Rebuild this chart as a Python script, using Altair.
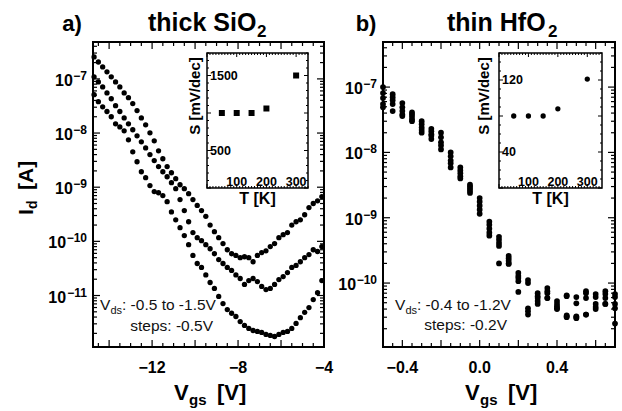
import altair as alt
import pandas as pd

FONT = "Liberation Sans"
MINUS = "\u2212"

# ---------------- data ----------------
# panel a: thick SiO2, three drain biases
VGS_A = [-14.7, -14.5, -14.3, -14.1, -13.9, -13.7, -13.5, -13.3, -13.1, -12.9,
         -12.7, -12.5, -12.3, -12.1, -11.9, -11.7, -11.5, -11.3, -11.1, -10.9,
         -10.7, -10.5, -10.3, -10.1, -9.9, -9.7, -9.5, -9.3, -9.1, -8.9,
         -8.7, -8.5, -8.3, -8.1, -7.9, -7.7, -7.5, -7.3, -7.1, -6.9,
         -6.7, -6.5, -6.3, -6.1, -5.9, -5.7, -5.5, -5.3, -5.1, -4.9,
         -4.7, -4.5, -4.3, -4.1]
ID_A_VDS15 = [2.55e-7, 2.05e-7, 1.66e-7, 1.35e-7, 1.09e-7, 8.8e-8, 7.1e-8, 5.5e-8, 4.5e-8, 3.5e-8,
              2.6e-8, 1.9e-8, 1.42e-8, 1.01e-8, 7.2e-9, 4.7e-9, 3.35e-9, 2.4e-9, 1.85e-9, 1.44e-9,
              1.11e-9, 9.4e-10, 7.6e-10, 5.9e-10, 4.6e-10, 3.7e-10, 2.9e-10, 2.0e-10, 1.51e-10, 1.17e-10,
              9.1e-11, 7.0e-11, 5.9e-11, 5.5e-11, 5.0e-11, 5.2e-11, 5.0e-11, 4.2e-11, 5.5e-11, 6.2e-11,
              6.7e-11, 8.0e-11, 9.1e-11, 1.17e-10, 1.33e-10, 1.45e-10, 2.0e-10, 2.3e-10, 2.5e-10, 3.1e-10,
              4.2e-10, 5.0e-10, 5.6e-10, 6.7e-10]
ID_A_VDS10 = [1.09e-7, 8.8e-8, 7.1e-8, 5.5e-8, 4.3e-8, 3.2e-8, 2.5e-8, 1.9e-8, 1.48e-8, 1.15e-8,
              8.9e-9, 6.9e-9, 5.3e-9, 4.0e-9, 3.1e-9, 2.4e-9, 1.93e-9, 1.56e-9, 1.21e-9, 9.4e-10,
              5.9e-10, 3.7e-10, 2.3e-10, 1.45e-10, 1.17e-10, 1.03e-10, 8.7e-11, 7.3e-11, 5.9e-11, 4.6e-11,
              3.9e-11, 3.3e-11, 2.9e-11, 2.4e-11, 2.06e-11, 1.6e-11, 1.89e-11, 2.06e-11, 1.81e-11, 1.47e-11,
              1.29e-11, 1.35e-11, 1.6e-11, 1.97e-11, 2.24e-11, 2.65e-11, 3.3e-11, 3.6e-11, 4.2e-11, 5.0e-11,
              5.7e-11, 7.0e-11, 6.5e-11, 8.0e-11]
ID_A_VDS05 = [5.1e-8, 3.8e-8, 3.05e-8, 2.5e-8, 2.0e-8, 1.48e-8, 1.3e-8, 1.1e-8, 7.5e-9, 4.5e-9,
              2.95e-9, 1.93e-9, 1.5e-9, 1.07e-9, 8.3e-10, 7.9e-10, 7.0e-10, 5.4e-10, 3.5e-10, 2.5e-10,
              1.79e-10, 1.28e-10, 8.7e-11, 5.5e-11, 3.9e-11, 3.3e-11, 2.4e-11, 1.74e-11, 1.35e-11, 9.6e-12,
              7.1e-12, 5.5e-12, 4.7e-12, 4.1e-12, 3.3e-12, 2.8e-12, 2.47e-12, 2.26e-12, 2.17e-12, 2.08e-12,
              1.91e-12, 1.83e-12, 1.75e-12, 1.91e-12, 2.08e-12, 2.17e-12, 2.47e-12, 3.05e-12, 3.9e-12, 4.9e-12,
              6.0e-12, 8.4e-12, 1.13e-11, 1.89e-11]

# panel b: thin HfO2, five drain biases
VGS_B = [-0.50, -0.45, -0.40, -0.35, -0.30, -0.25, -0.20, -0.15, -0.10, -0.05,
         0.00, 0.05, 0.10, 0.15, 0.20, 0.25, 0.30, 0.35, 0.40, 0.45,
         0.50, 0.55, 0.60, 0.65, 0.70]
ID_B_VDS12 = [1.0e-7, 7.8e-8, 5.7e-8, 4.1e-8, 3.0e-8, 2.3e-8, 2.0e-8, 1.0e-8, 5.9e-9, 3.2e-9,
              2.0e-9, 8.7e-10, 5.1e-10, 2.6e-10, 1.43e-10, 1.11e-10, 7.0e-11, 8.4e-11, 5.3e-11, 6.5e-11,
              6.1e-11, 7.5e-11, 6.8e-11, 7.5e-11, 6.8e-11]
ID_B_VDS10 = [8.1e-8, 7.0e-8, 4.9e-8, 3.8e-8, 2.7e-8, 2.1e-8, 1.7e-8, 8.7e-9, 5.3e-9, 3.0e-9,
              1.76e-9, 7.8e-10, 4.6e-10, 2.4e-10, 1.28e-10, 1.0e-10, 6.3e-11, 7.5e-11, 4.8e-11, 6.3e-11,
              4.9e-11, 7.0e-11, 6.1e-11, 6.8e-11, 6.1e-11]
ID_B_VDS08 = [6.8e-8, 6.3e-8, 4.3e-8, 3.5e-8, 2.4e-8, 1.9e-8, 1.43e-8, 7.5e-9, 4.8e-9, 2.8e-9,
              1.53e-9, 6.8e-10, 4.1e-10, 2.2e-10, 1.19e-10, 4.1e-11, 5.9e-11, 7.0e-11, 4.4e-11, 3.2e-11,
              3.1e-11, 5.9e-11, 4.8e-11, 5.9e-11, 4.8e-11]
ID_B_VDS06 = [5.5e-8, 5.5e-8, 3.8e-8, 3.2e-8, 2.2e-8, 1.8e-8, 1.28e-8, 6.8e-9, 4.3e-9, 2.6e-9,
              1.33e-9, 5.9e-10, 3.7e-10, 2.0e-10, 1.07e-10, 3.7e-11, 5.3e-11, 5.9e-11, 4.1e-11, 3.1e-11,
              3.0e-11, 3.3e-11, 4.3e-11, 4.8e-11, 4.1e-11]
ID_B_VDS04 = [4.9e-8, 4.3e-8, 3.6e-8, 3.0e-8, 2.0e-8, 1.6e-8, 1.11e-8, 5.9e-9, 4.0e-9, 2.4e-9,
              1.15e-9, 5.3e-10, 2.0e-10, 1.96e-10, 7.3e-11, 3.3e-11, 4.8e-11, 5.9e-11, 4.0e-11, 3.0e-11,
              2.9e-11, 3.3e-11, 4.0e-11, 4.8e-11, 2.4e-11]

# insets: subthreshold swing vs temperature
T_K = [50, 100, 150, 200, 300]
S_SIO2 = [1000, 1000, 1000, 1060, 1500]
S_HFO2 = [80, 80, 80, 88, 121]

# axis domains and tick labels
XA_DOMAIN = [-14.75, -4.0]
YA_DOMAIN = [1.12e-12, 4.8e-7]
XB_DOMAIN = [-0.5, 0.7]
YB_DOMAIN = [1.05e-11, 4.9e-7]
TA_DOMAIN = [0, 340]
SA_DOMAIN = [0, 1800]
TB_DOMAIN = [0, 350]
SB_DOMAIN = [0, 150]

XA_TICK_LABELS = [-12, -8, -4]
XB_TICK_LABELS = [-0.4, 0.0, 0.4]
YA_DECADES = [-11, -10, -9, -8, -7]
YB_DECADES = [-10, -9, -8, -7]
SA_TICK_LABELS = [500, 1500]
SB_TICK_LABELS = [40, 120]
T_TICK_LABELS = [100, 200, 300]

# ---------------- layout (pixels) ----------------
PA = (93, 324, 42, 347)
PB = (383, 615, 42, 347)
IA = (207, 308, 53, 188)
IB = (499, 602, 53, 188)


def lin(domain, lo, hi):
    return alt.Scale(domain=domain, range=[lo, hi], nice=False, zero=False)


def logsc(domain, lo, hi):
    return alt.Scale(type="log", domain=domain, range=[lo, hi], nice=False)


def one(t):
    return pd.DataFrame({"t": [t]})


def text_at(t, x, y, size, weight="bold", align="left", angle=0, color="black"):
    kw = dict(font=FONT, fontSize=size, fontWeight=weight, align=align,
              baseline="alphabetic", color=color)
    if angle:
        kw["angle"] = angle
    return alt.Chart(one(t)).mark_text(**kw).encode(
        x=alt.value(x), y=alt.value(y), text="t:N")


def vticks(vals, ys, xpix, length, sw=1.2):
    return alt.Chart(pd.DataFrame({"v": vals})).mark_rule(color="black", strokeWidth=sw).encode(
        y=alt.Y("v:Q", scale=ys, axis=None), x=alt.value(xpix), x2=alt.value(xpix + length))


def hticks(vals, xs, ypix, length, sw=1.2):
    return alt.Chart(pd.DataFrame({"v": vals})).mark_rule(color="black", strokeWidth=sw).encode(
        x=alt.X("v:Q", scale=xs, axis=None), y=alt.value(ypix), y2=alt.value(ypix + length))


def frame(xs, ys, xd, yd, sw, fill=None):
    df = pd.DataFrame({"x0": [xd[0]], "x1": [xd[1]], "y0": [yd[0]], "y1": [yd[1]]})
    if fill:
        m = alt.Chart(df).mark_rect(fill=fill, stroke="black", strokeWidth=sw)
    else:
        m = alt.Chart(df).mark_rect(filled=False, stroke="black", strokeWidth=sw)
    return m.encode(x=alt.X("x0:Q", scale=xs, axis=None), x2="x1:Q",
                    y=alt.Y("y0:Q", scale=ys, axis=None), y2="y1:Q")


def log_ticks(domain):
    major, minor = [], []
    for n in range(-13, -5):
        for k in range(1, 10):
            v = k * 10.0 ** n
            if domain[0] <= v <= domain[1]:
                (major if k == 1 else minor).append(v)
    return major, minor


def lin_ticks(start, stop, step, major_step):
    major, minor = [], []
    n = int(round((stop - start) / step))
    for i in range(n + 1):
        v = round(start + i * step, 4)
        r = v / major_step
        (major if abs(r - round(r)) < 1e-6 else minor).append(v)
    return major, minor


def panel_axes(P, xs, ys, xd, yd, xmaj, xmin, ymaj, ymin):
    x0, x1, y0, y1 = P
    LM, lm = 7, 4
    return [
        frame(xs, ys, xd, yd, 2),
        vticks(ymaj, ys, x0, LM), vticks(ymaj, ys, x1, -LM),
        vticks(ymin, ys, x0, lm), vticks(ymin, ys, x1, -lm),
        hticks(xmaj, xs, y1, -LM), hticks(xmaj, xs, y0, LM),
        hticks(xmin, xs, y1, -lm), hticks(xmin, xs, y0, lm),
    ]


def ylabels(decades, ys, xr):
    layers = []
    exp_size, base_size = 12, 16
    for nd in (1, 2):
        grp = [d for d in decades if len(str(-d)) == nd]
        if not grp:
            continue
        df = pd.DataFrame({"v": [10.0 ** d for d in grp],
                           "e": [MINUS + str(-d) for d in grp],
                           "b": ["10"] * len(grp)})
        ew = exp_size * (0.584 + 0.556 * nd)
        layers.append(alt.Chart(df).mark_text(font=FONT, fontSize=exp_size, fontWeight="bold",
                                              align="right", baseline="alphabetic", dy=1).encode(
            y=alt.Y("v:Q", scale=ys, axis=None), x=alt.value(xr), text="e:N"))
        layers.append(alt.Chart(df).mark_text(font=FONT, fontSize=base_size, fontWeight="bold",
                                              align="right", baseline="alphabetic", dy=7).encode(
            y=alt.Y("v:Q", scale=ys, axis=None), x=alt.value(xr - ew - 0.5), text="b:N"))
    return layers


def fmt(v, dec):
    s = f"{abs(v):.{dec}f}"
    return (MINUS + s) if v < 0 else s


def xlabels(vals, xs, dec, ybase):
    df = pd.DataFrame({"v": vals, "lab": [fmt(v, dec) for v in vals]})
    return alt.Chart(df).mark_text(font=FONT, fontSize=16, fontWeight="bold", align="center",
                                   baseline="alphabetic").encode(
        x=alt.X("v:Q", scale=xs, axis=None), y=alt.value(ybase), text="lab:N")


def inset(I, xs, ys, xd, yd, svals, shape, ymaj, ymin, ylabs, ytx):
    ix0, ix1, iy0, iy1 = I
    tmaj, tmin = lin_ticks(0, 340, 10, 100)
    L = [frame(xs, ys, xd, yd, 1.5, fill="white"),
         vticks(ymaj, ys, ix0, 4, 1), vticks(ymaj, ys, ix1, -4, 1),
         vticks(ymin, ys, ix0, 2, 1), vticks(ymin, ys, ix1, -2, 1),
         hticks(tmaj, xs, iy1, -4, 1), hticks(tmaj, xs, iy0, 4, 1),
         hticks(tmin, xs, iy1, -2, 1), hticks(tmin, xs, iy0, 2, 1)]
    df = pd.DataFrame({"T": T_K, "S": svals})
    if shape == "square":
        pts = alt.Chart(df).mark_square(size=36, color="black", opacity=1)
    else:
        pts = alt.Chart(df).mark_circle(size=28, color="black", opacity=1)
    L.append(pts.encode(x=alt.X("T:Q", scale=xs, axis=None), y=alt.Y("S:Q", scale=ys, axis=None)))
    dfl = pd.DataFrame({"v": ylabs, "lab": [str(v) for v in ylabs]})
    L.append(alt.Chart(dfl).mark_text(font=FONT, fontSize=12.5, fontWeight="bold", align="left",
                                      baseline="middle").encode(
        y=alt.Y("v:Q", scale=ys, axis=None), x=alt.value(ix0 + 3), text="lab:N"))
    dft = pd.DataFrame({"v": T_TICK_LABELS, "lab": [str(v) for v in T_TICK_LABELS]})
    L.append(alt.Chart(dft).mark_text(font=FONT, fontSize=12.5, fontWeight="bold", align="center",
                                      baseline="alphabetic").encode(
        x=alt.X("v:Q", scale=xs, axis=None), y=alt.value(iy1 - 2), text="lab:N"))
    L.append(alt.Chart(one("S [mV/dec]")).mark_text(font=FONT, fontSize=15, fontWeight="bold",
                                                    align="center", baseline="middle", angle=270).encode(
        x=alt.value(ytx), y=alt.value(96), text="t:N"))
    L.append(text_at("T  [K]", (ix0 + ix1) / 2, 204, 16, align="center"))
    return L


# ---------------- scales ----------------
xsA = lin(XA_DOMAIN, PA[0], PA[1])
ysA = logsc(YA_DOMAIN, PA[3], PA[2])
xsB = lin(XB_DOMAIN, PB[0], PB[1])
ysB = logsc(YB_DOMAIN, PB[3], PB[2])
xsIA = lin(TA_DOMAIN, IA[0], IA[1])
ysIA = lin(SA_DOMAIN, IA[3], IA[2])
xsIB = lin(TB_DOMAIN, IB[0], IB[1])
ysIB = lin(SB_DOMAIN, IB[3], IB[2])

layers = []

# panel a
xa_maj, xa_min = lin_ticks(-14.5, -4.0, 0.5, 2)
ya_maj, ya_min = log_ticks(YA_DOMAIN)
layers += panel_axes(PA, xsA, ysA, XA_DOMAIN, YA_DOMAIN, xa_maj, xa_min, ya_maj, ya_min)
dfA = pd.concat([pd.DataFrame({"vgs": VGS_A, "id": s, "vds": v}) for v, s in
                 [(-1.5, ID_A_VDS15), (-1.0, ID_A_VDS10), (-0.5, ID_A_VDS05)]])
layers.append(alt.Chart(dfA).mark_circle(size=28, color="black", opacity=1).encode(
    x=alt.X("vgs:Q", scale=xsA, axis=None), y=alt.Y("id:Q", scale=ysA, axis=None)))
layers += ylabels(YA_DECADES, ysA, PA[0] - 6)
layers.append(xlabels(XA_TICK_LABELS, xsA, 0, 373))

# panel b
xb_maj, xb_min = lin_ticks(-0.5, 0.7, 0.05, 0.2)
yb_maj, yb_min = log_ticks(YB_DOMAIN)
layers += panel_axes(PB, xsB, ysB, XB_DOMAIN, YB_DOMAIN, xb_maj, xb_min, yb_maj, yb_min)
dfB = pd.concat([pd.DataFrame({"vgs": VGS_B, "id": s, "vds": v}) for v, s in
                 [(-1.2, ID_B_VDS12), (-1.0, ID_B_VDS10), (-0.8, ID_B_VDS08),
                  (-0.6, ID_B_VDS06), (-0.4, ID_B_VDS04)]])
layers.append(alt.Chart(dfB).mark_circle(size=33, color="black", opacity=1).encode(
    x=alt.X("vgs:Q", scale=xsB, axis=None), y=alt.Y("id:Q", scale=ysB, axis=None)))
layers += ylabels(YB_DECADES, ysB, PB[0] - 6)
layers.append(xlabels(XB_TICK_LABELS, xsB, 1, 373))

# insets
sa_maj, sa_min = lin_ticks(0, 1800, 100, 500)
layers += inset(IA, xsIA, ysIA, TA_DOMAIN, SA_DOMAIN, S_SIO2, "square", sa_maj, sa_min,
                SA_TICK_LABELS, 195)
sb_maj, sb_min = lin_ticks(0, 150, 10, 40)
layers += inset(IB, xsIB, ysIB, TB_DOMAIN, SB_DOMAIN, S_HFO2, "circle", sb_maj, sb_min,
                SB_TICK_LABELS, 484)

# titles
layers += [
    text_at("a)", 72, 31, 22, align="center"),
    text_at("thick SiO", 148, 31, 25),
    text_at("2", 257, 37, 17),
    text_at("b)", 366, 31, 22, align="center"),
    text_at("thin HfO", 447, 31, 25),
    text_at("2", 548, 37, 17),
]
# axis titles
layers += [
    text_at("V", 174, 400, 22), text_at("gs", 189, 405, 15), text_at("[V]", 217, 400, 22),
    text_at("V", 465, 400, 22), text_at("gs", 480, 405, 15), text_at("[V]", 508, 400, 22),
    text_at("I", 33, 215, 21, angle=270), text_at("d", 37, 209, 14, angle=270),
    text_at("[A]", 33, 190, 21, angle=270),
]
# annotations
ANN = "#111111"
layers += [
    text_at("V", 100, 310, 15.5, "normal", color=ANN), text_at("ds", 110.5, 314, 11, "normal", color=ANN),
    text_at(": -0.5 to -1.5V", 122, 310, 15.5, "normal", color=ANN),
    text_at("steps: -0.5V", 213, 331, 15.5, "normal", align="right", color=ANN),
    text_at("V", 395, 310, 15.5, "normal", color=ANN), text_at("ds", 405.5, 314, 11, "normal", color=ANN),
    text_at(": -0.4 to -1.2V", 417, 310, 15.5, "normal", color=ANN),
    text_at("steps: -0.2V", 507, 330, 15.5, "normal", align="right", color=ANN),
]

chart = alt.layer(*layers).resolve_scale(x="independent", y="independent").properties(
    width=622, height=411, padding=0, autosize=alt.AutoSizeParams(type="none")
).configure_view(stroke=None)

chart.save("out.html", embed_options={"renderer": "svg", "actions": False})
